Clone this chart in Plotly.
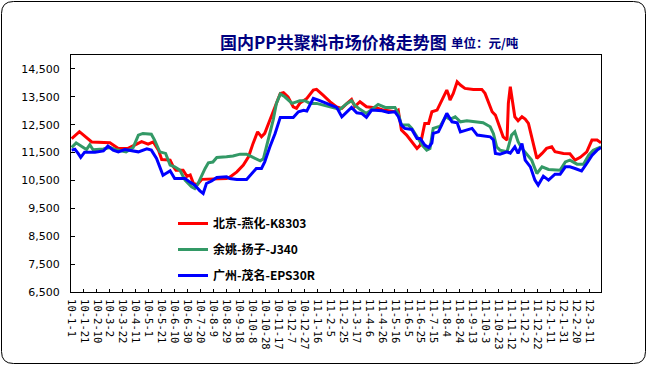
import plotly.graph_objects as go

# ---------------- data ----------------
tick_labels = ["10-1-1", "10-1-21", "10-2-10", "10-3-2", "10-3-22", "10-4-11", "10-5-1", "10-5-21",
               "10-6-10", "10-6-30", "10-7-20", "10-8-9", "10-8-29", "10-9-18", "10-10-8", "10-10-28",
               "10-11-17", "10-12-7", "10-12-27", "11-1-16", "11-2-5", "11-2-25", "11-3-17", "11-4-6",
               "11-4-26", "11-5-16", "11-6-5", "11-6-25", "11-7-15", "11-8-4", "11-8-24", "11-9-13",
               "11-10-3", "11-10-23", "11-11-12", "11-12-2", "11-12-22", "12-1-11", "12-1-31", "12-2-20",
               "12-3-11"]

red_dates = ["2010-01-02", "2010-01-14", "2010-02-02", "2010-03-02", "2010-03-10", "2010-03-15", "2010-03-30",
             "2010-04-10", "2010-04-20", "2010-04-30", "2010-05-08", "2010-05-16", "2010-05-21", "2010-06-03",
             "2010-06-08", "2010-06-12", "2010-06-23", "2010-06-29", "2010-07-04", "2010-07-09", "2010-07-15",
             "2010-07-22", "2010-08-29", "2010-09-03", "2010-09-14", "2010-09-24", "2010-10-02", "2010-10-09",
             "2010-10-16", "2010-10-22", "2010-10-27", "2010-11-04", "2010-11-12", "2010-11-20", "2010-11-25",
             "2010-12-02", "2010-12-10", "2010-12-15", "2010-12-20", "2010-12-31", "2011-01-10", "2011-01-15",
             "2011-01-25", "2011-02-05", "2011-02-15", "2011-02-23", "2011-03-03", "2011-03-10", "2011-03-15",
             "2011-03-23", "2011-04-02", "2011-04-18", "2011-04-28", "2011-05-16", "2011-05-21", "2011-05-26",
             "2011-06-03", "2011-06-11", "2011-06-19", "2011-06-24", "2011-06-29", "2011-07-01", "2011-07-07",
             "2011-07-12", "2011-07-20", "2011-07-25", "2011-07-30", "2011-08-04", "2011-08-07", "2011-08-09",
             "2011-08-14", "2011-08-20", "2011-08-25", "2011-09-01", "2011-09-14", "2011-09-27", "2011-10-02",
             "2011-10-08", "2011-10-13", "2011-10-18", "2011-10-25", "2011-10-30", "2011-11-05", "2011-11-07",
             "2011-11-10", "2011-11-12", "2011-11-14", "2011-11-17", "2011-11-22", "2011-11-28", "2011-12-03",
             "2011-12-08", "2011-12-13", "2011-12-21", "2011-12-29", "2012-01-05", "2012-01-13", "2012-01-18",
             "2012-01-31", "2012-02-10", "2012-02-18", "2012-02-26", "2012-03-07", "2012-03-15", "2012-03-23",
             "2012-03-29"]
red_vals = [12000, 12250, 11880, 11850, 11730, 11650, 11650,
            11770, 11890, 11800, 11880, 11590, 11250, 11230,
            10990, 10870, 10870, 10650, 10700, 10390, 10350,
            10540, 10570, 10620, 10810, 11050, 11350, 11830,
            12245, 12070, 12190, 12670, 13140, 13620, 13650,
            13500, 13140, 13085, 13265, 13440, 13740, 13770,
            13560, 13320, 13140, 13085, 13265, 13408, 13150,
            13324, 13143, 13100, 13024, 12964, 13024, 12306,
            12127, 11886, 11649, 11767, 12245, 12547, 12547,
            12964, 13024, 13265, 13563, 13742, 13560, 13383,
            13620, 14040, 13922, 13803, 13767, 13767, 13624,
            13265, 12964, 12845, 12426, 12066, 11947, 13265,
            13863, 13502, 13200, 12784, 12640, 12784, 12700,
            12547, 12066, 11290, 11470, 11649, 11707, 11530,
            11469, 11460, 11229, 11330, 11527, 11947, 11947,
            11850]

green_dates = ["2010-01-02", "2010-01-09", "2010-01-20", "2010-01-25", "2010-01-30", "2010-02-04", "2010-02-20",
               "2010-03-02", "2010-03-12", "2010-03-27", "2010-04-07", "2010-04-15", "2010-04-22", "2010-05-05",
               "2010-05-10", "2010-05-18", "2010-05-27", "2010-06-03", "2010-06-10", "2010-06-18", "2010-06-26",
               "2010-07-06", "2010-07-11", "2010-07-16", "2010-07-27", "2010-08-01", "2010-08-08", "2010-08-14",
               "2010-08-29", "2010-09-08", "2010-09-19", "2010-09-29", "2010-10-09", "2010-10-20", "2010-10-25",
               "2010-11-01", "2010-11-09", "2010-11-14", "2010-11-20", "2010-11-27", "2010-12-08", "2010-12-15",
               "2010-12-20", "2010-12-28", "2011-01-05", "2011-01-15", "2011-01-25", "2011-02-05", "2011-02-20",
               "2011-03-03", "2011-03-10", "2011-03-15", "2011-03-23", "2011-04-02", "2011-04-13", "2011-04-20",
               "2011-05-01", "2011-05-16", "2011-05-21", "2011-05-26", "2011-06-06", "2011-06-11", "2011-06-19",
               "2011-06-27", "2011-07-04", "2011-07-09", "2011-07-14", "2011-07-25", "2011-08-02", "2011-08-09",
               "2011-08-17", "2011-08-25", "2011-09-04", "2011-09-19", "2011-09-29", "2011-10-10", "2011-10-15",
               "2011-10-20", "2011-10-25", "2011-11-05", "2011-11-12", "2011-11-17", "2011-11-22", "2011-11-28",
               "2011-12-05", "2011-12-13", "2011-12-21", "2011-12-29", "2012-01-08", "2012-01-26", "2012-02-03",
               "2012-02-10", "2012-02-21", "2012-03-02", "2012-03-10", "2012-03-17", "2012-03-29"]
green_vals = [11685, 11850, 11685, 11613, 11780, 11600, 11630,
              11685, 11600, 11527, 11685, 12127, 12187, 12160,
              11947, 11527, 11470, 11049, 10990, 10870, 10511,
              10271, 10213, 10390, 10930, 11132, 11160, 11326,
              11350, 11380, 11444, 11444, 11326, 11204, 11280,
              11947, 12665, 13265, 13600, 13500, 13265, 13320,
              13360, 13360, 13265, 13265, 13200, 13121, 13050,
              13265, 13360, 13200, 13050, 12905, 13085, 13229,
              13121, 13121, 12900, 12486, 12486, 12367, 12066,
              11767, 11588, 11650, 12367, 12450, 12784, 12690,
              12784, 12604, 12640, 12600, 12568, 12426, 12180,
              11707, 11588, 11530, 12127, 12245, 11890, 11649,
              11469, 11229, 10751, 10988, 10893, 10870, 11168,
              11230, 11085, 11085, 11409, 11588, 11707]

blue_dates = ["2010-01-02", "2010-01-07", "2010-01-12", "2010-01-16", "2010-01-22", "2010-02-07", "2010-02-20",
              "2010-02-27", "2010-03-07", "2010-03-15", "2010-03-25", "2010-04-04", "2010-04-15", "2010-04-28",
              "2010-05-05", "2010-05-13", "2010-05-18", "2010-05-23", "2010-05-28", "2010-06-03", "2010-06-10",
              "2010-06-26", "2010-07-03", "2010-07-11", "2010-07-19", "2010-07-24", "2010-07-29", "2010-08-06",
              "2010-08-14", "2010-08-29", "2010-09-03", "2010-09-14", "2010-09-29", "2010-10-07", "2010-10-14",
              "2010-10-22", "2010-10-27", "2010-11-04", "2010-11-12", "2010-11-20", "2010-12-10", "2010-12-18",
              "2010-12-26", "2010-12-31", "2011-01-07", "2011-01-10", "2011-01-18", "2011-01-31", "2011-02-15",
              "2011-02-23", "2011-03-03", "2011-03-10", "2011-03-18", "2011-03-26", "2011-04-02", "2011-04-10",
              "2011-04-26", "2011-05-06", "2011-05-16", "2011-05-21", "2011-05-26", "2011-05-31", "2011-06-11",
              "2011-06-19", "2011-06-24", "2011-07-01", "2011-07-07", "2011-07-12", "2011-07-14", "2011-07-22",
              "2011-07-27", "2011-08-04", "2011-08-12", "2011-08-20", "2011-08-25", "2011-09-04", "2011-09-12",
              "2011-09-20", "2011-10-10", "2011-10-15", "2011-10-18", "2011-10-25", "2011-11-05", "2011-11-10",
              "2011-11-17", "2011-11-22", "2011-11-28", "2011-12-03", "2011-12-11", "2011-12-18", "2011-12-23",
              "2011-12-31", "2012-01-08", "2012-01-18", "2012-01-26", "2012-02-03", "2012-02-10", "2012-02-18",
              "2012-02-28", "2012-03-07", "2012-03-15", "2012-03-23", "2012-03-29"]
blue_vals = [11588, 11620, 11469, 11326, 11516, 11516, 11560,
             11732, 11588, 11527, 11610, 11560, 11527, 11634,
             11588, 11290, 10988, 10690, 10760, 10845, 10572,
             10572, 10450, 10331, 10127, 10033, 10392, 10480,
             10607, 10630, 10572, 10536, 10536, 10750, 10930,
             10930, 11168, 11707, 12187, 12762, 12762, 12964,
             13020, 12990, 13287, 13444, 13380, 13265, 13121,
             12784, 12964, 13121, 12927, 12900, 12762, 13024,
             13000, 12940, 12964, 12800, 12486, 12367, 12330,
             12008, 12008, 11767, 11685, 11850, 12187, 12245,
             12486, 12905, 12604, 12570, 12245, 12306, 12367,
             12127, 12066, 11950, 11469, 11440, 11527, 11480,
             11707, 11469, 11828, 11229, 10988, 10511, 10331,
             10654, 10511, 10726, 10726, 10988, 10988, 10930,
             10845, 11109, 11400, 11588, 11685]

series_names = ["北京-燕化-K8303", "余姚-扬子-J340", "广州-茂名-EPS30R"]
series_colors = ["#FF0000", "#339966", "#0000FF"]

y_tick_vals = [6500, 7500, 8500, 9500, 10500, 11500, 12500, 13500, 14500]
y_range = [6500, 15000]
x_range = ["2010-01-01", "2012-03-29"]

# tick positions parsed from the tick labels (yy-m-d)
def label_to_date(s):
    yy, m, d = s.split("-")
    return "20%s-%02d-%02d" % (yy, int(m), int(d))

tick_vals = [label_to_date(s) for s in tick_labels]

# ---------------- layout geometry (pixels) ----------------
W, H = 648, 366
ML, MR, MT, MB = 71, 47, 55, 74
PW, PH = W - ML - MR, H - MT - MB

def px_x(px):
    return (px - ML) / PW

def px_y(py):
    return (H - MB - py) / PH

fig = go.Figure()
for dates, vals, name, color in zip([red_dates, green_dates, blue_dates],
                                    [red_vals, green_vals, blue_vals],
                                    series_names, series_colors):
    fig.add_trace(go.Scatter(x=dates, y=vals, mode="lines", name=name, legendgroup=name,
                             line=dict(color=color, width=3)))

# rounded outer frame
L, R, T, B, rad = 1.5, 645.5, 1.5, 363.5, 12
rx, ry = rad / PW, rad / PH
x0, x1, y0, y1 = px_x(L), px_x(R), px_y(B), px_y(T)
path = (f"M{x0 + rx},{y1} L{x1 - rx},{y1} Q{x1},{y1} {x1},{y1 - ry} "
        f"L{x1},{y0 + ry} Q{x1},{y0} {x1 - rx},{y0} "
        f"L{x0 + rx},{y0} Q{x0},{y0} {x0},{y0 + ry} "
        f"L{x0},{y1 - ry} Q{x0},{y1} {x0 + rx},{y1} Z")
fig.add_shape(type="path", path=path, xref="paper", yref="paper",
              line=dict(color="black", width=1), fillcolor="rgba(0,0,0,0)", layer="below")

navy = "#000080"
fig.add_annotation(text="<b>国内PP共聚料市场价格走势图</b>", xref="paper", yref="paper",
                   x=px_x(218), y=px_y(41), xanchor="left", yanchor="middle", showarrow=False,
                   font=dict(family="Noto Sans CJK SC", size=17, color=navy))
fig.add_annotation(text="<b>单位：元/吨</b>", xref="paper", yref="paper",
                   x=px_x(449), y=px_y(42), xanchor="left", yanchor="middle", showarrow=False,
                   font=dict(family="Noto Sans CJK SC", size=12.5, color=navy))

fig.update_layout(
    width=W, height=H,
    margin=dict(l=ML, r=MR, t=MT, b=MB),
    paper_bgcolor="white", plot_bgcolor="white",
    showlegend=True,
    legend=dict(x=px_x(173), y=px_y(209), xanchor="left", yanchor="top",
                bgcolor="rgba(0,0,0,0)", borderwidth=0, tracegroupgap=7,
                font=dict(family="Noto Sans CJK SC", size=12, color="black", weight="bold"),
                itemwidth=30),
    xaxis=dict(type="date", range=x_range, tickmode="array", tickvals=tick_vals, ticktext=tick_labels,
               tickangle=90, ticks="inside", ticklen=3, tickcolor="black", ticklabelstandoff=4,
               showline=True, linecolor="black", linewidth=1, mirror=True, showgrid=False, zeroline=False,
               tickfont=dict(family="DejaVu Sans Mono", size=10.5, color="black")),
    yaxis=dict(range=y_range, tickmode="array", tickvals=y_tick_vals, tickformat=",",
               ticks="inside", ticklen=4, tickcolor="black", ticklabelstandoff=8,
               showline=True, linecolor="black", linewidth=1, mirror=True, showgrid=False, zeroline=False,
               tickfont=dict(family="DejaVu Sans", size=11, color="black")),
)

fig.write_html("out.html", config={"displayModeBar": False},
               post_script="document.body.style.margin='0';")
